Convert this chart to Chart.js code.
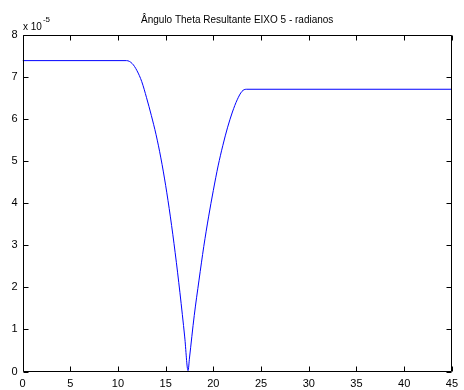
<!DOCTYPE html>
<html>
<head>
<meta charset="utf-8">
<script src="https://cdn.jsdelivr.net/npm/chart.js@4/dist/chart.umd.min.js"></script>
<style>
  html, body { margin: 0; padding: 0; background: #fff; }
  #wrap { width: 464px; height: 390px; }
</style>
</head>
<body>
<div id="wrap"><canvas id="c" width="464" height="390"></canvas></div>
<script>
// Resulting theta angle, axis 5 (radians, in units of 1e-5)
const titleText = 'Ângulo Theta Resultante EIXO 5 - radianos';
const exponentBase = 'x 10';
const exponentPower = '-5';

const timeValues = [
  0, 10.9, 11.5, 12, 12.5, 13, 13.5, 14, 14.5, 15, 15.5, 16, 16.5, 17,
  17.35, 17.5, 18, 18.5, 19, 19.5, 20, 20.5, 21, 21.5, 22, 22.5, 23, 23.45, 45
];
const thetaE5 = [
  7.38, 7.38, 7.31, 7.14, 6.88, 6.50, 6.08, 5.62, 5.07, 4.42, 3.67, 2.82, 1.87, 0.82,
  0.02, 0.32, 1.33, 2.17, 2.97, 3.67, 4.30, 4.88, 5.37, 5.80, 6.16, 6.45, 6.65, 6.70, 6.70
];
const xTicks = [0, 5, 10, 15, 20, 25, 30, 35, 40, 45];
const yTicks = [0, 1, 2, 3, 4, 5, 6, 7, 8];

const FONT = '"Liberation Sans", Arial, sans-serif';

const points = timeValues.map((t, i) => ({ x: t, y: thetaE5[i] }));

// Boxed axes with inward tick marks, title and exponent label
const framePlugin = {
  id: 'frame',
  afterDraw(chart) {
    const { ctx, chartArea: a, scales } = chart;
    const L = Math.round(a.left) + 0.5, R = Math.round(a.right) - 0.5;
    const T = Math.round(a.top) + 0.5, B = Math.round(a.bottom) - 0.5;
    ctx.save();
    ctx.strokeStyle = '#000';
    ctx.lineWidth = 1;
    ctx.beginPath();
    ctx.rect(L, T, R - L, B - T);
    const tl = 5;
    xTicks.forEach(v => {
      const px = Math.round(scales.x.getPixelForValue(v)) + 0.5;
      ctx.moveTo(px, B); ctx.lineTo(px, B - tl);
      ctx.moveTo(px, T); ctx.lineTo(px, T + tl);
    });
    yTicks.forEach(v => {
      const py = Math.round(scales.y.getPixelForValue(v)) + 0.5;
      ctx.moveTo(L, py); ctx.lineTo(L + tl, py);
      ctx.moveTo(R, py); ctx.lineTo(R - tl, py);
    });
    ctx.stroke();

    ctx.fillStyle = '#000';
    ctx.textBaseline = 'alphabetic';
    ctx.textAlign = 'center';
    ctx.font = '10px ' + FONT;
    ctx.fillText(titleText, (a.left + a.right) / 2, 23);

    ctx.textAlign = 'left';
    ctx.font = '10px ' + FONT;
    ctx.fillText(exponentBase, 23, 30);
    const w = ctx.measureText(exponentBase).width;
    ctx.font = '8px ' + FONT;
    ctx.fillText(exponentPower, 23 + w + 1, 22);
    ctx.restore();
  }
};

new Chart(document.getElementById('c'), {
  type: 'line',
  data: {
    datasets: [{
      data: points,
      borderColor: '#0000ff',
      borderWidth: 1,
      pointRadius: 0,
      fill: false,
      cubicInterpolationMode: 'monotone'
    }]
  },
  options: {
    responsive: false,
    animation: false,
    events: [],
    layout: { padding: { top: 34.5, right: 8.5, left: 0, bottom: 0 } },
    plugins: { legend: { display: false }, title: { display: false }, tooltip: { enabled: false } },
    scales: {
      x: {
        type: 'linear',
        min: 0, max: 45,
        afterBuildTicks(s) { s.ticks = xTicks.map(v => ({ value: v })); },
        afterFit(s) { s.height = 18.5; },
        grid: { display: false, drawTicks: false },
        border: { display: false },
        ticks: { color: '#000', font: { family: FONT, size: 11 }, padding: 6, maxRotation: 0 }
      },
      y: {
        type: 'linear',
        min: 0, max: 8,
        afterBuildTicks(s) { s.ticks = yTicks.map(v => ({ value: v })); },
        afterFit(s) { s.width = 22.5; },
        grid: { display: false, drawTicks: false },
        border: { display: false },
        ticks: { color: '#000', font: { family: FONT, size: 11 }, padding: 5 }
      }
    }
  },
  plugins: [framePlugin]
});
</script>
</body>
</html>
